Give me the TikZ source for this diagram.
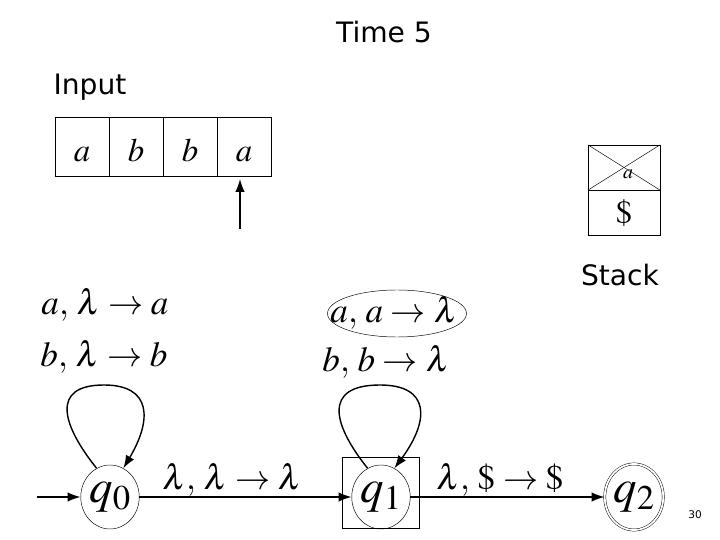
\documentclass[tikz,border=0pt]{standalone}
\usepackage{mathptmx}
\usepackage{fontspec}
\setsansfont{DejaVu Sans}
\usetikzlibrary{arrows.meta,shapes.geometric}
\tikzset{
  lab/.style={font=\sffamily\fontsize{24}{28}\selectfont, inner sep=0pt},
  mlab/.style={font=\fontsize{30}{34}\selectfont, inner sep=0pt},
  cell/.style={draw, minimum width=54*0.03cm, minimum height=59*0.03cm, inner sep=0pt, text height=26pt, text depth=0pt, font=\fontsize{28}{32}\selectfont},
  state/.style={draw, ellipse, minimum width=48*0.03cm, minimum height=64*0.03cm, inner sep=0pt, font=\fontsize{40}{44}\selectfont},
  edge/.style={-{Latex[length=11pt,width=8pt]}, line width=1.2pt},
  loop/.style={-{Latex[length=11pt,width=8pt]}, line width=1.2pt}
}
\begin{document}
\begin{tikzpicture}[x=0.03cm,y=-0.03cm]
\useasboundingbox (0,0) rectangle (720,540);
% titles
\node[lab] (time) at (384,32) {Time 5};
\node[lab] (input) at (90,87) {Input};
\node[lab] (stacklab) at (620,275) {Stack};
% input tape
\node[cell] (c1) at (82,146.5) {$a$};
\node[cell] (c2) at (136,146.5) {$b$};
\node[cell] (c3) at (190,146.5) {$b$};
\node[cell] (c4) at (244,146.5) {$a$};
\coordinate (head) at (240,229);
\draw[edge] (head) -- (240,179);
% stack
\node[draw, minimum width=72*0.03cm, minimum height=45*0.03cm, inner sep=0pt] (s1) at (624,167.5) {};
\node[draw, minimum width=72*0.03cm, minimum height=45*0.03cm, inner sep=0pt, font=\fontsize{28}{32}\selectfont] (s2) at (624,212.5) {$\$$};
\draw (s1.north west) -- (s1.south east);
\draw (s1.north east) -- (s1.south west);
\node[inner sep=0pt, font=\fontsize{17}{20}\selectfont] (sa) at (628,174) {$a$};
% transition labels
\node[mlab] (l1) at (105,305) {$a,\,\lambda\to a$};
\node[mlab] (l2) at (104,357) {$b,\,\lambda\to b$};
\node[mlab] (l3) at (394,313) {$a,\,a\to\lambda$};
\draw (l3.center) ++(3,0.5) ellipse [x radius=2.085cm, y radius=0.705cm];
\node[mlab] (l4) at (386,362) {$b,\,b\to\lambda$};
\node[mlab] (l5) at (232,480) {$\lambda,\,\lambda\to\lambda$};
\node[mlab] (l6) at (500,480) {$\lambda,\,\$\to\$$};
% states
\node[state] (q0) at (110,497) {$q_0$};
\node[state] (q1) at (381,497) {$q_1$};
\node[draw, minimum width=77*0.03cm, minimum height=71*0.03cm, inner sep=0pt] (q1box) at (381,492.5) {};
\node[state, double, double distance=1.5pt, minimum width=52*0.03cm, minimum height=66*0.03cm] (q2) at (634,497) {$q_2$};
\coordinate (start) at (37,497);
\draw[edge] (start) -- (q0.west);
\draw[edge] (q0.east) -- (q1.west);
\draw[edge] (q1.east) -- (q2.west);
% loops
\draw[loop] (q0.115) .. controls (62,425) and (50,385) .. (104,385) .. controls (152,385) and (152,420) .. (q0.65);
\draw[loop] (q1.115) .. controls (333,425) and (322,385) .. (380,385) .. controls (430,385) and (430,420) .. (q1.65);
% page number
\node[font=\sffamily\fontsize{9}{11}\selectfont, inner sep=0pt] (pg) at (695,515) {30};
\end{tikzpicture}
\end{document}
